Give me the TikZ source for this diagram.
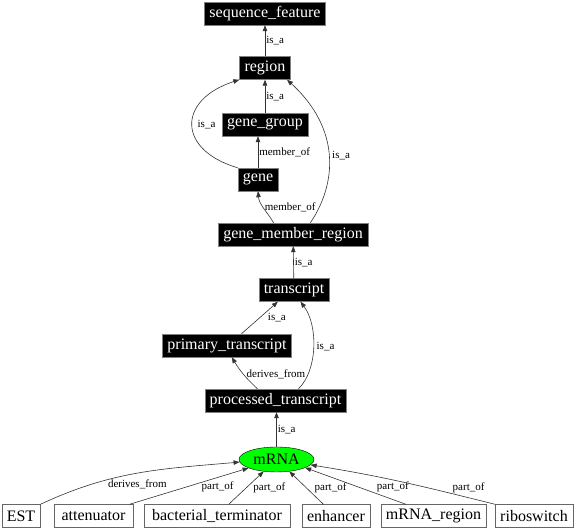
\documentclass[tikz,border=0pt]{standalone}
\usepackage{fontspec}
\setmainfont{Liberation Serif}
\usetikzlibrary{arrows.meta,shapes.geometric}

\begin{document}
\begin{tikzpicture}[x=1pt,y=1pt,
	term/.style={draw=gray,fill=black,text=white,font=\fontsize{16}{18}\selectfont,minimum height=23pt,inner xsep=5pt,inner ysep=0pt},
	leaf/.style={draw=black!60,fill=white,font=\fontsize{16}{18}\selectfont,minimum height=23pt,inner xsep=5pt,inner ysep=0pt},
	focus/.style={draw=black,fill=green,ellipse,font=\fontsize{16}{18}\selectfont,minimum width=75pt,minimum height=25pt,inner sep=0pt},
	rel/.style={draw=black!80,line width=0.6pt,-{Triangle[length=6pt,width=4.5pt]}},
	lab/.style={font=\fontsize{11}{12}\selectfont,inner sep=1pt}]
				\useasboundingbox (0,0) rectangle (576,529);
				\node[term] (seqf) at (265,515.5) {sequence\_feature};
				\node[term] (region) at (265,461) {region};
				\node[term] (genegroup) at (265,404.5) {gene\_group};
				\node[term] (gene) at (258,349.5) {gene};
				\node[term] (gmr) at (293,294.5) {gene\_member\_region};
				\node[term] (transcript) at (294,239) {transcript};
				\node[term] (primary) at (227,183.5) {primary\_transcript};
				\node[term] (processed) at (275.5,128.5) {processed\_transcript};
				\node[focus] (mrna) at (276.5,69.5) {mRNA};
				\node[leaf] (est) at (21,13) {EST};
				\node[leaf,minimum width=79pt] (att) at (93.5,13) {attenuator};
				\node[leaf,minimum width=146pt] (bact) at (217,13) {bacterial\_terminator};
				\node[leaf] (enh) at (336,13) {enhancer};
				\node[leaf] (mreg) at (433.5,13) {mRNA\_region};
				\node[leaf] (ribo) at (534,13) {riboswitch};
				\draw[rel] (region) -- node[lab,right] {is\_a} (seqf);
				\draw[rel] (genegroup) -- node[lab,right] {is\_a} (region);
				\draw[rel] (gene.150) .. controls (177,379) and (177,429) .. node[lab,pos=0.5,anchor=west,xshift=4pt] {is\_a} (region.south west);
				\draw[rel] (gene.north) -- node[lab,right] {member\_of} (gene.north |- genegroup.south);
				\draw[rel] (gmr.149) to[out=120,in=-85] node[lab,pos=0.5,anchor=west] {member\_of} (gene.south);
				\draw[rel] (gmr.34) .. controls (336,344) and (342,399) .. node[lab,pos=0.5,anchor=west,xshift=2pt] {is\_a} (region.-28);
				\draw[rel] (transcript) -- node[lab,right] {is\_a} (gmr);
				\draw[rel] (primary.39) -- node[lab,pos=0.5,anchor=west,xshift=7pt] {is\_a} (transcript.216);
				\draw[rel] (processed.27) .. controls (318,159) and (318,204) .. node[lab,pos=0.5,anchor=west,xshift=2pt] {is\_a} (transcript.-61);
				\draw[rel] (processed.147) to[bend left=8] node[lab,pos=0.5,anchor=west,xshift=2pt] {derives\_from} (primary.-68);
				\draw[rel] (mrna.north) -- node[lab,right] {is\_a} (mrna.north |- processed.south);
				\draw[rel] (est.north east) to[out=25,in=185] node[lab,pos=0.5,anchor=north,yshift=-5pt] {derives\_from} (mrna.184);
				\draw[rel] (att.18) -- node[lab,pos=0.74,anchor=north,yshift=-3pt] {part\_of} (mrna.197);
				\draw[rel] (bact.45) -- node[lab,pos=0.5,anchor=west,xshift=6pt] {part\_of} (mrna.223);
				\draw[rel] (enh.137) -- node[lab,pos=0.5,anchor=west,xshift=7pt] {part\_of} (mrna.-43);
				\draw[rel] (mreg.157) -- node[lab,pos=0.13,anchor=south,yshift=6pt] {part\_of} (mrna.-16);
				\draw[rel] (ribo.north west) to[out=166,in=-9] node[lab,pos=0.13,anchor=south,yshift=4pt] {part\_of} (mrna.-9);
			\end{tikzpicture}
\end{document}
